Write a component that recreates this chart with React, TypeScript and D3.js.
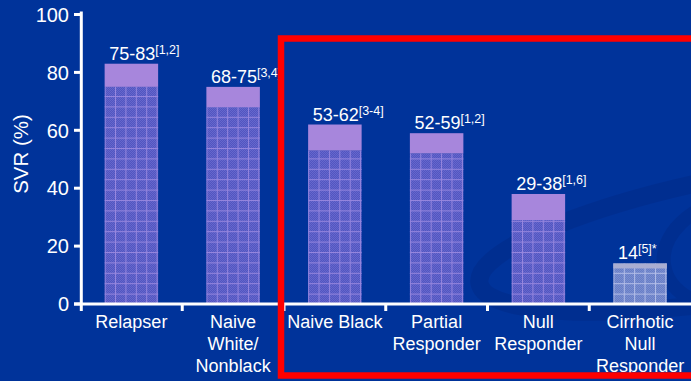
import React from "react";
import * as d3 from "d3";

// Patient groups (line breaks mark the wrapped axis labels)
const categories = [
  "Relapser",
  "Naive\nWhite/\nNonblack",
  "Naive Black",
  "Partial\nResponder",
  "Null\nResponder",
  "Cirrhotic\nNull\nResponder",
];
// SVR range per group, in percent
const lowValues = [75, 68, 53, 52, 29, 14];
const highValues = [83, 75, 62, 59, 38, 14];
const rangeLabels = ["75-83", "68-75", "53-62", "52-59", "29-38", "14"];
const refLabels = ["[1,2]", "[3,4]", "[3-4]", "[1,2]", "[1,6]", "[5]*"];
const yTicks = [0, 20, 40, 60, 80, 100];

const W = 691;
const H = 381;
const FONT = "'Liberation Sans', Arial, Helvetica, sans-serif";
const BG = "#00339a";

export default function App() {
  const x = d3
    .scaleBand<string>()
    .domain(categories)
    .range([80.5, 691])
    .padding(0);
  const y = d3.scaleLinear().domain([0, 100]).range([304, 14.5]);
  const barW = 53.5;
  const cell = 10.4;

  const bars = categories.map((c, i) => {
    const cx = (x(c) as number) + x.bandwidth() / 2;
    return {
      c,
      i,
      x0: cx - barW / 2,
      cx,
      low: lowValues[i],
      high: highValues[i],
      single: lowValues[i] === highValues[i],
    };
  });

  const boundaries = categories.map((c) => x(c) as number);

  return (
    <svg
      width={W}
      height={H}
      style={{ position: "absolute", left: 0, top: 0, display: "block" }}
      fontFamily={FONT}
    >
      <defs>
        <pattern id="chk" width={2} height={2} patternUnits="userSpaceOnUse">
          <rect width={2} height={2} fill="#5255c0" />
          <rect width={1} height={1} fill="#6567cd" />
          <rect x={1} y={1} width={1} height={1} fill="#6567cd" />
        </pattern>
        <pattern id="chkGrey" width={2} height={2} patternUnits="userSpaceOnUse">
          <rect width={2} height={2} fill="#687ec5" />
          <rect width={1} height={1} fill="#7a8ed1" />
          <rect x={1} y={1} width={1} height={1} fill="#7a8ed1" />
        </pattern>
        {bars.map((b) => (
          <pattern
            key={b.c}
            id={`grid${b.i}`}
            x={b.x0}
            y={y(0)}
            width={cell}
            height={cell}
            patternUnits="userSpaceOnUse"
          >
            <line
              x1={0.5}
              y1={0}
              x2={0.5}
              y2={cell}
              stroke={b.single ? "#b4bee8" : "#9686de"}
              strokeWidth={1}
            />
            <line
              x1={0}
              y1={0.5}
              x2={cell}
              y2={0.5}
              stroke={b.single ? "#b4bee8" : "#9686de"}
              strokeWidth={1}
            />
          </pattern>
        ))}
      </defs>

      <rect width={W} height={H} fill={BG} />

      {/* faint swoosh of the slide backdrop */}
      <g fill="none" stroke="#002c8a" opacity={0.6}>
        <ellipse cx={770} cy={232} rx={295} ry={62} strokeWidth={18} transform="rotate(-10 770 232)" />
        <ellipse cx={745} cy={252} rx={82} ry={56} strokeWidth={14} transform="rotate(-10 745 252)" />
      </g>

      {/* bars */}
      {bars.map((b) => (
        <g key={b.c}>
          <rect
            x={b.x0}
            y={y(b.low)}
            width={barW}
            height={y(0) - y(b.low)}
            fill={b.single ? "url(#chkGrey)" : "url(#chk)"}
          />
          <rect
            x={b.x0}
            y={y(b.low)}
            width={barW}
            height={y(0) - y(b.low)}
            fill={`url(#grid${b.i})`}
          />
          {b.single ? (
            <rect x={b.x0} y={y(b.high)} width={barW} height={5} fill="#a9aed2" />
          ) : (
            <rect
              x={b.x0}
              y={y(b.high)}
              width={barW}
              height={y(b.low) - y(b.high)}
              fill="#a786dc"
            />
          )}
          <text x={b.x0 + 4.5} y={y(b.high) - 4} fill="#ffffff" fontSize={18}>
            {rangeLabels[b.i]}
            <tspan fontSize={12.5} dy={-6}>
              {refLabels[b.i]}
            </tspan>
          </text>
        </g>
      ))}

      {/* y axis */}
      <g>
        <line x1={81.3} y1={11.5} x2={81.3} y2={311} stroke="#fff" strokeWidth={3} />
        {yTicks.map((t) => (
          <g key={t}>
            <line x1={74} y1={y(t)} x2={81} y2={y(t)} stroke="#fff" strokeWidth={3} />
            <text
              x={69}
              y={y(t)}
              dy="0.36em"
              textAnchor="end"
              fill="#fff"
              fontSize={20}
            >
              {t}
            </text>
          </g>
        ))}
        <text
          transform={`translate(28,${154}) rotate(-90)`}
          textAnchor="middle"
          fill="#fff"
          fontSize={20.5}
        >
          SVR (%)
        </text>
      </g>

      {/* x axis */}
      <g>
        <line x1={74} y1={y(0)} x2={W} y2={y(0)} stroke="#fff" strokeWidth={3} />
        {boundaries.slice(1).map((bx, k) => (
          <line key={k} x1={bx} y1={y(0)} x2={bx} y2={y(0) + 7} stroke="#fff" strokeWidth={3} />
        ))}
        {bars.map((b) => (
          <text key={b.c} textAnchor="middle" fill="#fff" fontSize={18}>
            {b.c.split("\n").map((line, li) => (
              <tspan key={li} x={b.cx} y={328 + li * 22.2}>
                {line}
              </tspan>
            ))}
          </text>
        ))}
      </g>

      {/* highlight frame */}
      <rect
        x={281}
        y={38.5}
        width={430}
        height={337}
        fill="none"
        stroke="#ff0000"
        strokeWidth={6.5}
      />
    </svg>
  );
}
